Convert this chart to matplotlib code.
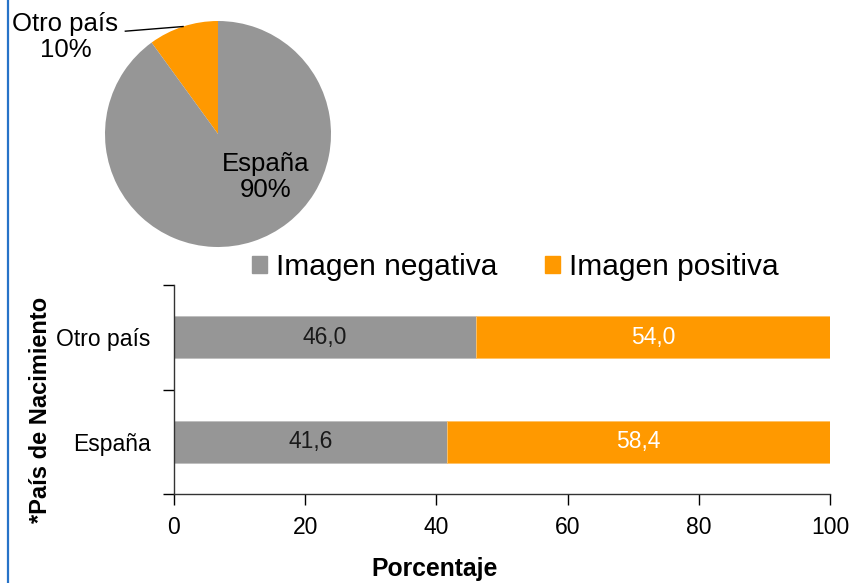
import matplotlib.pyplot as plt
import numpy as np
from matplotlib.lines import Line2D
from matplotlib.patches import Patch

plt.rcParams['font.family'] = ['Liberation Sans', 'DejaVu Sans']

# distribución por país de nacimiento
pie_labels = ["Otro país", "España"]
pie_values = [10, 90]

# imagen según país de nacimiento (porcentaje)
countries = ["España", "Otro país"]
negativa = [41.6, 46.0]
positiva = [58.4, 54.0]
series_names = ["Imagen negativa", "Imagen positiva"]

GRAY = "#969696"
ORANGE = "#FF9900"

W, H = 852, 583
fig = plt.figure(figsize=(W / 100, H / 100), dpi=100)

# línea azul del borde izquierdo
fig.add_artist(Line2D([8 / W, 8 / W], [0, 1], transform=fig.transFigure,
                      color="#2773C8", lw=1.6))

# --- tarta ---
cx, cy, r = 218, 134, 113
ax_pie = fig.add_axes([(cx - r) / W, (H - cy - r) / H, 2 * r / W, 2 * r / H])
wedges, _ = ax_pie.pie(pie_values, colors=[ORANGE, GRAY], startangle=90,
                       counterclock=True, radius=1,
                       wedgeprops=dict(edgecolor="none"))
ax_pie.set_xlim(-1, 1)
ax_pie.set_ylim(-1, 1)
ax_pie.set_aspect("equal")
ax_pie.axis("off")

total = sum(pie_values)
pct = [f"{v * 100 / total:.0f}%" for v in pie_values]

# etiqueta de España dentro del sector
ax_pie.text(0.42, -0.38, f"{pie_labels[1]}\n{pct[1]}", ha="center", va="center",
            fontsize=18.5, color="black", linespacing=1.1)

# etiqueta de Otro país fuera, con línea guía
w = wedges[0]
mid = np.deg2rad((w.theta1 + w.theta2) / 2)
ax_pie.plot([-0.82, np.cos(mid)], [0.91, np.sin(mid)], color="black", lw=1,
            clip_on=False)
ax_pie.text(-1.35, 0.86, f"{pie_labels[0]}\n{pct[0]}", ha="center", va="center",
            fontsize=18.5, color="black", linespacing=1.1, clip_on=False)

# --- barras apiladas ---
x0, x1, y0, y1 = 174, 830, 285, 494
ax = fig.add_axes([x0 / W, (H - y1) / H, (x1 - x0) / W, (y1 - y0) / H])
ypos = np.arange(len(countries))
ax.barh(ypos, negativa, height=0.4, color=GRAY, edgecolor="#BDBDBD", lw=0.6)
ax.barh(ypos, positiva, left=negativa, height=0.4, color=ORANGE,
        edgecolor="#FFC266", lw=0.6)

for i in ypos:
    ax.text(negativa[i] / 2, i, f"{negativa[i]:.1f}".replace(".", ","),
            ha="center", va="center", fontsize=16.5, color="#1a1a1a")
    ax.text(negativa[i] + positiva[i] / 2, i,
            f"{positiva[i]:.1f}".replace(".", ","),
            ha="center", va="center", fontsize=16.5, color="white")

ax.set_xlim(0, 100)
ax.set_ylim(-0.5, len(countries) - 0.5)
ax.set_xticks(np.arange(0, 101, 20))
ax.set_yticks(np.arange(-0.5, len(countries), 1.0))
ax.set_yticklabels([])
ax.set_yticks(ypos, minor=True)
ax.set_yticklabels(countries, minor=True)
ax.tick_params(axis="y", which="major", direction="out", length=8, width=1)
ax.tick_params(axis="y", which="minor", length=0, pad=17, labelsize=16.5)
ax.tick_params(axis="x", direction="out", length=8, width=1, pad=8,
               labelsize=16.5)
for s in ["top", "right"]:
    ax.spines[s].set_visible(False)
for s in ["left", "bottom"]:
    ax.spines[s].set_color("#333333")
    ax.spines[s].set_linewidth(1)

fig.text(435 / W, 1 - 569 / H, "Porcentaje", ha="center", va="center",
         fontsize=17.8, fontweight="bold")
fig.text(41 / W, 1 - 410 / H, "*País de Nacimiento", rotation=90,
         ha="center", va="center", fontsize=17, fontweight="bold")

handles = [Patch(color=GRAY), Patch(color=ORANGE)]
fig.legend(handles, series_names, loc="center", ncol=2, frameon=False,
           bbox_to_anchor=(515 / W, 1 - 267 / H), fontsize=21.5,
           handlelength=0.5, handleheight=0.5, handletextpad=0.3,
           columnspacing=1.6, borderpad=0)

fig.savefig("out.png", dpi=100)
